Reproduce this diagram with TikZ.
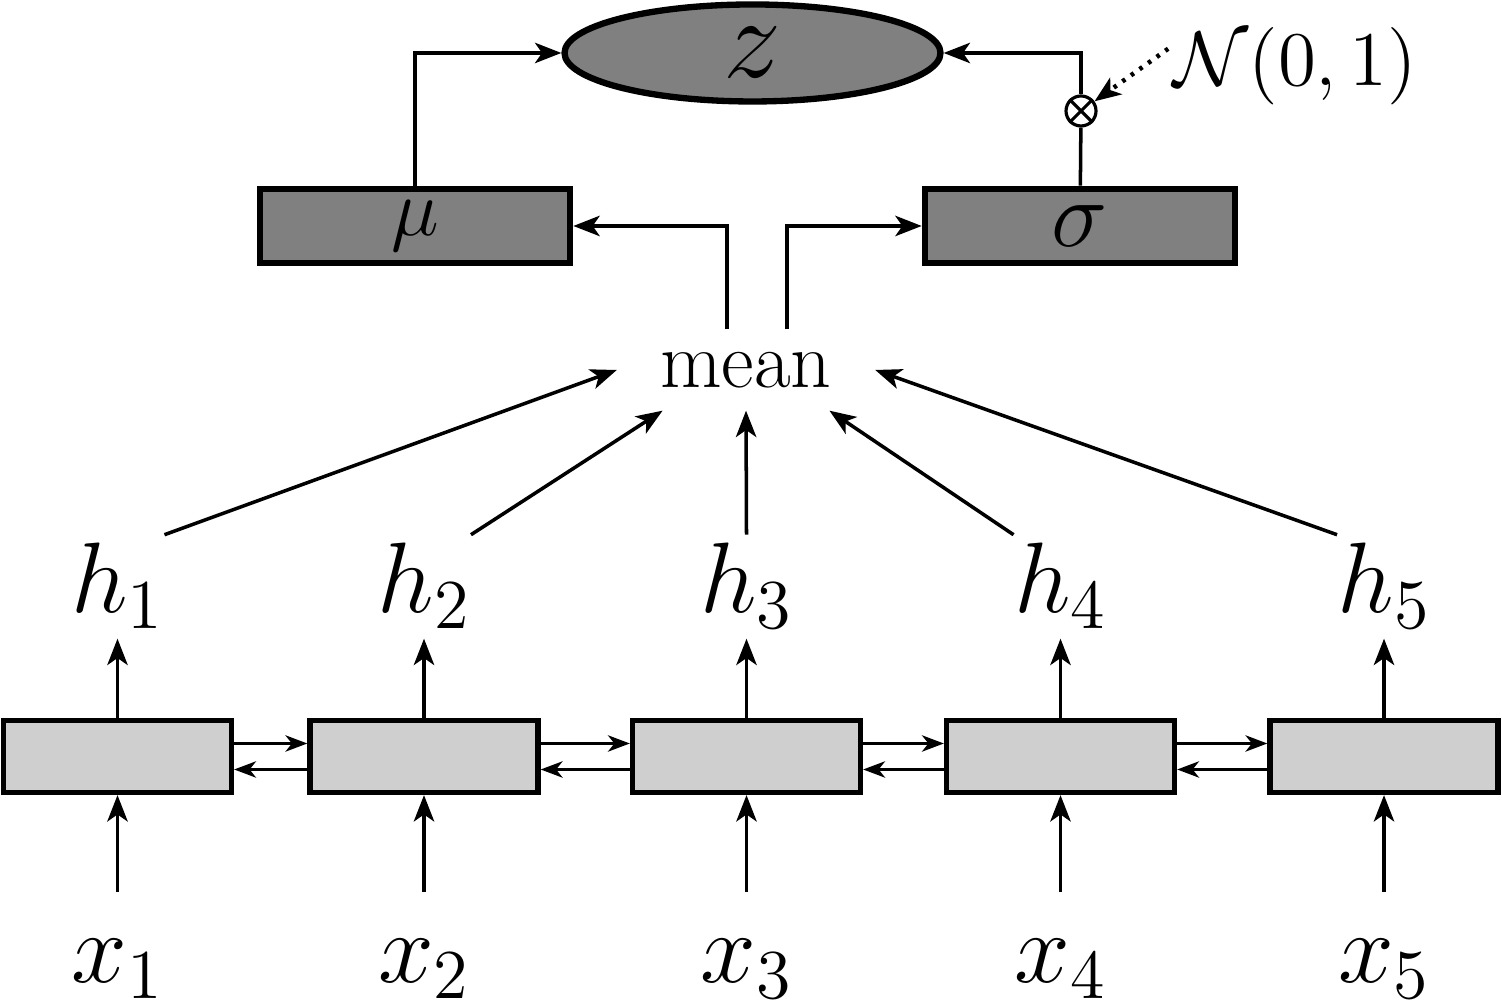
\documentclass[tikz,border=0pt]{standalone}
\usepackage{amsmath}
\usetikzlibrary{arrows.meta,shapes.geometric}
\DeclareFontShape{OML}{cmm}{m}{it}{<-> cmmi12}{}
\DeclareFontShape{OMS}{cmsy}{m}{n}{<-> cmsy10}{}
\DeclareFontShape{OT1}{cmr}{m}{n}{<-> cmr12}{}
\definecolor{cellgray}{RGB}{207, 207, 207}
\definecolor{paramgray}{RGB}{128, 128, 128}

\tikzset{
  arr/.style    ={line width=1pt, -{Stealth[length=7.5pt, width=5.8pt, inset=2pt]}},
  recarr/.style ={line width=1pt, -{Stealth[length=6.2pt, width=4.6pt, inset=1.8pt]}},
  cell/.style   ={draw, line width=1.5pt, fill=cellgray, minimum width=2.28cm, minimum height=0.72cm, inner sep=0pt},
  param/.style  ={draw, line width=1.9pt, fill=paramgray, minimum width=3.1cm, minimum height=0.74cm, inner sep=0pt},
  latent/.style ={ellipse, draw, line width=1.8pt, fill=paramgray, minimum width=3.76cm, minimum height=0.97cm, inner sep=0pt},
  hlabel/.style ={anchor=base, inner xsep=0pt, inner ysep=0.08cm, text depth=0.17cm, font=\fontsize{28.5}{34}\selectfont},
  xlabel/.style ={anchor=base, inner xsep=0pt, inner ysep=0.08cm, text height=0.82cm, font=\fontsize{28.5}{34}\selectfont},
}

\begin{document}
\begin{tikzpicture}
  \useasboundingbox (0,0) rectangle (15.02,10);
  % bidirectional cells with inputs and hidden states
  \foreach \i/\cx in {1/1.175, 2/4.24, 3/7.465, 4/10.605, 5/13.84}{
    \node[cell]   (c\i) at (\cx, 2.435) {};
    \node[xlabel] (x\i) at (\cx, 0.17)  {$x_{\i}$};
    \node[hlabel] (h\i) at (\cx, 3.87)  {$h_{\i}$};
    \draw[arr] (x\i) -- (c\i);
    \draw[arr] (c\i) -- (h\i);
  }
  \foreach \i/\j in {1/2, 2/3, 3/4, 4/5}{
    \draw[recarr] ([yshift=0.13cm]c\i.east)  -- ([yshift=0.13cm]c\j.west);
    \draw[recarr] ([yshift=-0.13cm]c\j.west) -- ([yshift=-0.13cm]c\i.east);
  }
  % pooling
  \node[font=\fontsize{22.7}{27}\selectfont, minimum width=2.57cm, minimum height=0.8cm, inner sep=0pt] (mean) at (7.46, 6.30) {mean};
  \draw[arr] (h1.north east) -- (mean.west);
  \draw[arr] (h2.north east) -- (mean.206);
  \draw[arr] (h3.north)      -- (mean.south);
  \draw[arr] (h4.north west) -- (mean.334);
  \draw[arr] (h5.north west) -- (mean.east);
  % latent part
  \node[param, font=\fontsize{23}{28}\selectfont] (mu)    at ( 4.15, 7.74) {$\mu$};
  \node[param, font=\fontsize{27}{32}\selectfont] (sigma) at (10.80, 7.74) {$\sigma$};
  \node[latent, font=\fontsize{33}{40}\selectfont] (z)    at ( 7.525, 9.47) {$z$};
  \node[circle, draw, line width=0.9pt, fill=white, minimum size=0.3cm, inner sep=0pt] (prod) at (10.81, 8.89) {};
  \draw[line width=0.9pt] (prod.north west) -- (prod.south east) (prod.north east) -- (prod.south west);
  \node[anchor=base, inner sep=0.05cm, font=\fontsize{22}{26}\selectfont] (noise) at (12.955, 9.14) {$\mathcal{N}(0,1)$};
  \draw[arr] ([xshift=-0.19cm]mean.north) |- (mu);
  \draw[arr] ([xshift=0.41cm]mean.north)  |- (sigma);
  \draw[arr] (mu) |- (z);
  \draw[line width=1pt] (sigma) -- (prod);
  \draw[arr] (prod) |- (z);
  \draw[arr, dotted, line width=1.3pt] (noise.172) -- (prod);
\end{tikzpicture}
\end{document}
